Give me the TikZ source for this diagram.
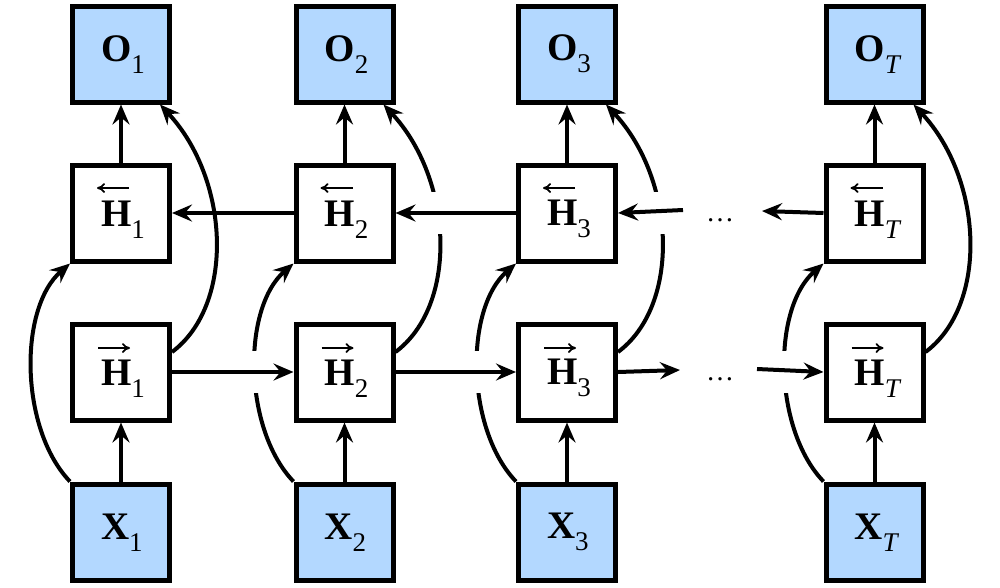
\documentclass[tikz,border=0pt]{standalone}
\usepackage{fontspec}
\setmainfont{Liberation Serif}
\usetikzlibrary{arrows.meta,intersections}
\definecolor{boxblue}{RGB}{179,216,255}
\newcommand{\subnum}[1]{\raisebox{-12pt}{\fontsize{27}{27}\selectfont #1}}
\newcommand{\sublab}[3]{\makebox[40pt][l]{\rule{0pt}{#3}\textbf{#1}\subnum{#2}}}
\begin{document}
\begin{tikzpicture}[x=1pt,y=-1pt,
  cell/.style={draw, line width=5pt, minimum width=97pt, minimum height=96pt,
    inner sep=0pt, font=\fontsize{39}{46}\selectfont},
  io/.style={cell, fill=boxblue},
  hid/.style={cell, fill=white},
  conn/.style={line width=4pt, -{Stealth[length=20pt,width=17pt,inset=7pt]}},
  overarrow/.style={line width=1.8pt, -{Computer Modern Rightarrow[length=8pt,width=10pt]}},
  gapbox/.style={fill=white, draw=none, minimum width=30pt, minimum height=42pt, inner sep=0pt},
  dotsnode/.style={font=\fontsize{28}{28}\selectfont, inner sep=0pt, anchor=base}]
\useasboundingbox (0,0) rectangle (1000,587);
% boxes
\foreach \i/\x/\s in {1/121/1, 2/344.5/2, 3/567/3, T/874.5/{\textit{T}}}{
  \node[io]  (O\i)  at (\x,54)  {\sublab{O}{\s}{26pt}};
  \node[hid] (Hb\i) at (\x,213) {\sublab{H}{\s}{38pt}};
  \node[hid] (Hf\i) at (\x,372) {\sublab{H}{\s}{38pt}};
  \node[io]  (X\i)  at (\x,532) {\sublab{X}{\s}{26pt}};
  \draw[overarrow] ([xshift=8pt,yshift=25pt]Hb\i.center) -- ++(-32,0);
  \draw[overarrow] ([xshift=-23pt,yshift=24pt]Hf\i.center) -- ++(32,0);
}
% curved connectors
\foreach \i in {1,2,3,T}{
  \draw[conn, name path global=xc\i] (X\i.north west) .. controls +(-50,-52) and +(-52,45) .. (Hb\i.south west);
  \draw[conn, name path global=oc\i] ([yshift=20pt]Hf\i.east) .. controls +(63,-47) and +(70,75) .. ([xshift=39pt]O\i.south);
}
% gaps where curves pass under horizontal connectors
\path[name path global=rowF] (0,372) -- (1000,372);
\path[name path global=rowB] (0,213) -- (1000,213);
\foreach \i in {2,3,T}{
  \path[name intersections={of=rowF and xc\i}] (intersection-1) node[gapbox] {};
}
\foreach \i in {2,3}{
  \path[name intersections={of=rowB and oc\i}] (intersection-1) node[gapbox] {};
}
% straight vertical connectors
\foreach \i in {1,2,3,T}{
  \draw[conn] (Hb\i) -- (O\i);
  \draw[conn] (X\i) -- (Hf\i);
}
% forward direction
\coordinate (fA) at (680,370);
\coordinate (fB) at (757,369);
\draw[conn] (Hf1) -- (Hf2);
\draw[conn] (Hf2) -- (Hf3);
\draw[conn] (Hf3.east) -- (fA);
\draw[conn] (fB) -- (HfT.west);
\node[dotsnode] (fdots) at (720,380) {…};
% backward direction
\coordinate (bA) at (683,210);
\coordinate (bB) at (762,211);
\draw[conn] (Hb2) -- (Hb1);
\draw[conn] (Hb3) -- (Hb2);
\draw[conn] (bA) -- (Hb3.east);
\draw[conn] (HbT.west) -- (bB);
\node[dotsnode] (bdots) at (720,221) {…};
\end{tikzpicture}
\end{document}
